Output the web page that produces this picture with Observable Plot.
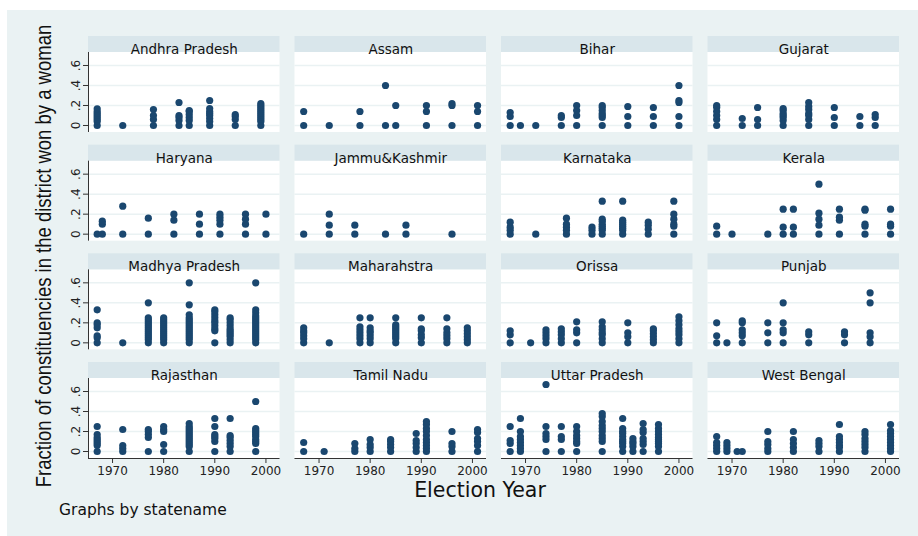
<!DOCTYPE html>
<html>
<head>
<meta charset="utf-8">
<script src="https://cdn.jsdelivr.net/npm/d3@7"></script>
<script src="https://cdn.jsdelivr.net/npm/@observablehq/plot@0.6"></script>
<style>
  html, body { margin: 0; padding: 0; background: #fff; }
  #chart { position: relative; width: 918px; height: 536px; overflow: hidden; background: #fff; }
  #panel { position: absolute; left: 7px; top: 10px; width: 911px; height: 526px; background: #eaf2f3; }
  #panel svg { position: absolute; left: 0; top: 0; }
</style>
</head>
<body>
<div id="chart"><div id="panel"></div></div>
<script>
// States in facet order (4 columns x 4 rows)
const stateNames = [
  "Andhra Pradesh", "Assam", "Bihar", "Gujarat",
  "Haryana", "Jammu&Kashmir", "Karnataka", "Kerala",
  "Madhya Pradesh", "Maharahstra", "Orissa", "Punjab",
  "Rajasthan", "Tamil Nadu", "Uttar Pradesh", "West Bengal"
];

// Per state: [election year, fractions of constituencies won by a woman, one per district]
const andhraPradesh = [
  [1967, [0, .04, .06, .08, .1, .12, .14, .167]],
  [1972, [0]],
  [1978, [0, .06, .1, .16]],
  [1983, [0, .05, .08, .1, .23]],
  [1985, [0, .05, .08, .11, .14, .15]],
  [1989, [0, .04, .07, .1, .12, .14, .17, .25]],
  [1994, [0, .06, .09, .11]],
  [1999, [0, .04, .06, .08, .1, .12, .14, .16, .18, .2, .22]]
];
const assam = [
  [1967, [0, .14]], [1972, [0]], [1978, [0, .14]], [1983, [0, .4]],
  [1985, [0, .2]], [1991, [0, .14, .2]], [1996, [0, .2, .22]], [2001, [0, .14, .2]]
];
const bihar = [
  [1967, [0, .09, .13]], [1969, [0]], [1972, [0]], [1977, [0, .08, .1]],
  [1980, [0, .1, .15, .2]], [1985, [0, .08, .1, .12, .15, .18, .2]],
  [1990, [0, .09, .19]], [1995, [0, .09, .18]], [2000, [0, .09, .23, .25, .4]]
];
const gujarat = [
  [1967, [0, .06, .1, .14, .18, .2]], [1972, [0, .07]], [1975, [0, .06, .18]],
  [1980, [0, .05, .08, .1, .12, .15, .17]], [1985, [0, .06, .1, .12, .16, .19, .23]],
  [1990, [0, .08, .18]], [1995, [0, .09]], [1998, [0, .08, .11]]
];
const haryana = [
  [1967, [0]], [1968, [0, .1, .13]], [1972, [0, .28]], [1977, [0, .16]],
  [1982, [0, .14, .2]], [1987, [0, .1, .2]], [1991, [0, .1, .14, .17, .2]],
  [1996, [0, .1, .15, .2]], [2000, [0, .2]]
];
const jammuKashmir = [
  [1967, [0]], [1972, [0, .09, .2]], [1977, [0, .09]], [1983, [0]], [1987, [0, .09]], [1996, [0]]
];
const karnataka = [
  [1967, [0, .04, .07, .12]], [1972, [0]], [1978, [0, .04, .07, .1, .16]], [1983, [0, .04, .07]],
  [1985, [0, .04, .06, .08, .1, .13, .15, .33]], [1989, [0, .04, .06, .08, .1, .12, .14, .33]],
  [1994, [0, .05, .09, .12]], [1999, [0, .08, .1, .15, .2, .33]]
];
const kerala = [
  [1967, [0, .08]], [1970, [0]], [1977, [0]], [1980, [0, .07, .25]], [1982, [0, .07, .25]],
  [1987, [0, .09, .15, .21, .5]], [1991, [0, .14, .17, .25]], [1996, [0, .08, .1, .24, .25]],
  [2001, [0, .08, .1, .25]]
];
const madhyaPradesh = [
  [1967, [0, .05, .07, .15, .18, .2, .33]],
  [1972, [0]],
  [1977, [0, .03, .05, .07, .09, .11, .13, .15, .17, .19, .21, .23, .25, .4]],
  [1980, [0, .03, .05, .07, .09, .11, .13, .15, .17, .19, .21, .23, .25]],
  [1985, [0, .03, .05, .07, .09, .11, .13, .15, .17, .19, .21, .23, .25, .28, .38, .6]],
  [1990, [0, .12, .14, .17, .2, .22, .25, .28, .31, .33]],
  [1993, [0, .03, .06, .08, .1, .12, .14, .17, .2, .23, .25]],
  [1998, [0, .03, .05, .07, .09, .11, .13, .15, .17, .19, .21, .23, .25, .27, .3, .33, .6]]
];
const maharashtra = [
  [1967, [0, .04, .07, .1, .12, .15]], [1972, [0]],
  [1978, [0, .04, .07, .1, .13, .16, .25]], [1980, [0, .04, .07, .1, .12, .15, .25]],
  [1985, [0, .04, .06, .08, .1, .12, .14, .16, .18, .25]], [1990, [0, .05, .08, .12, .14, .25]],
  [1995, [0, .04, .07, .1, .14, .25]], [1999, [0, .03, .06, .09, .12, .15]]
];
const orissa = [
  [1967, [0, .08, .12]], [1971, [0]], [1974, [0, .04, .07, .1, .13]], [1977, [0, .04, .08, .11, .14]],
  [1980, [0, .1, .13, .21]], [1985, [0, .04, .08, .1, .13, .16, .21]], [1990, [0, .06, .1, .2]],
  [1995, [0, .03, .06, .09, .12, .14]], [2000, [0, .04, .08, .11, .14, .18, .22, .26]]
];
const punjab = [
  [1967, [0, .07, .2]], [1969, [0]], [1972, [0, .07, .1, .13, .2, .22]], [1977, [0, .1, .2]],
  [1980, [0, .1, .13, .2, .4]], [1985, [0, .08, .11]], [1992, [0, .08, .11]], [1997, [0, .06, .1, .4, .5]]
];
const rajasthan = [
  [1967, [0, .06, .08, .1, .12, .14, .17, .25]], [1972, [0, .03, .06, .22]],
  [1977, [0, .14, .17, .2, .22]], [1980, [0, .07, .2, .22, .25]],
  [1985, [0, .05, .07, .09, .11, .13, .15, .17, .19, .21, .23, .25, .28]],
  [1990, [0, .1, .13, .15, .17, .25, .33]], [1993, [0, .05, .08, .11, .14, .16, .33]],
  [1998, [0, .08, .1, .12, .15, .17, .19, .21, .23, .5]]
];
const tamilNadu = [
  [1967, [0, .09]], [1971, [0]], [1977, [0, .03, .08]], [1980, [0, .04, .07, .12]],
  [1984, [0, .04, .07, .1, .12]], [1989, [0, .04, .08, .11, .18]],
  [1991, [0, .03, .06, .09, .12, .16, .2, .23, .27, .3]], [1996, [0, .05, .08, .2]],
  [2001, [0, .06, .1, .13, .19, .22]]
];
const uttarPradesh = [
  [1967, [0, .08, .11, .25]], [1969, [0, .03, .06, .09, .12, .15, .2, .33]],
  [1974, [0, .12, .15, .18, .25, .67]], [1977, [0, .12, .15, .25]],
  [1980, [0, .08, .1, .13, .16, .2, .25]], [1985, [0, .1, .13, .16, .2, .23, .26, .3, .35, .38]],
  [1989, [0, .05, .08, .1, .12, .15, .18, .2, .23, .33]], [1991, [0, .05, .08, .1, .13]],
  [1993, [0, .07, .1, .13, .19, .22, .28]], [1996, [0, .05, .08, .1, .12, .14, .17, .2, .23, .27]]
];
const westBengal = [
  [1967, [0, .03, .06, .09, .15]], [1969, [0, .03, .06, .09]], [1971, [0]], [1972, [0]],
  [1977, [0, .03, .07, .1, .2]], [1982, [0, .04, .08, .12, .2]], [1987, [0, .05, .08, .11]],
  [1991, [0, .04, .06, .09, .12, .15, .27]], [1996, [0, .04, .07, .1, .13, .17, .2]],
  [2001, [0, .03, .06, .09, .12, .15, .18, .21, .27]]
];

const stateData = [
  andhraPradesh, assam, bihar, gujarat,
  haryana, jammuKashmir, karnataka, kerala,
  madhyaPradesh, maharashtra, orissa, punjab,
  rajasthan, tamilNadu, uttarPradesh, westBengal
];

// Axis ticks and labels
const yearTicks = [1970, 1980, 1990, 2000];
const fractionTicks = [0, .2, .4, .6];
const xTitle = "Election Year";
const yTitle = "Fraction of constituencies in the district won by a woman";
const note = "Graphs by statename";

// Scale extents: the y domain above the plot area holds the state title strip
const xMin = 1965.3, xMax = 2002.75;
const yMin = -0.07, yPlotTop = 0.73, yStripTop = 0.89;

const navy = "#1a476f";
const stripFill = "#d9e6eb";
const gridColor = "#eaf2f3";

const panels = stateNames.map((name, i) => ({name, col: i % 4, row: Math.floor(i / 4)}));
const points = panels.flatMap((p, i) =>
  stateData[i].flatMap(([year, fractions]) => fractions.map(frac => ({...p, year, frac})))
);

const chart = Plot.plot({
  width: 911,
  height: 526,
  marginLeft: 81,
  marginRight: 19,
  marginTop: 26,
  marginBottom: 78,
  style: {fontFamily: "'DejaVu Sans', sans-serif", fontSize: "12px", background: "transparent", color: "#222"},
  fx: {domain: [0, 1, 2, 3], axis: null, paddingInner: 0.0726, paddingOuter: 0, round: false, label: null},
  fy: {domain: [0, 1, 2, 3], axis: null, paddingInner: 0.1166, paddingOuter: 0, round: false, label: null},
  x: {domain: [xMin, xMax], label: null},
  y: {domain: [yMin, yStripTop], label: null},
  marks: [
    // plot area and title strip of each panel
    Plot.rect([0], {x1: xMin, x2: xMax, y1: yMin, y2: yPlotTop, fill: "white"}),
    Plot.rect([0], {x1: xMin, x2: xMax, y1: yPlotTop, y2: yStripTop, fill: stripFill}),
    Plot.ruleY(fractionTicks, {x1: xMin, x2: xMax, stroke: gridColor, strokeWidth: 1.5}),
    Plot.text(panels, {fx: "col", fy: "row", text: "name", frameAnchor: "top", dy: 8, fontSize: 13.5, fill: "#111"}),
    // district fractions
    Plot.dot(points, {fx: "col", fy: "row", x: "year", y: "frac", r: 3.6, fill: navy, stroke: null}),
    // axis lines on the outer panels
    Plot.ruleX(panels.filter(p => p.col === 0), {fx: "col", fy: "row", x: xMin, y1: yMin, y2: yPlotTop, stroke: "#333"}),
    Plot.ruleY(panels.filter(p => p.row === 3), {fx: "col", fy: "row", y: yMin, x1: xMin, x2: xMax, stroke: "#333"}),
    Plot.axisY(fractionTicks, {
      tickSize: 5, tickPadding: 4, tickRotate: -90, fontSize: 12, stroke: "#333",
      tickFormat: d => d === 0 ? "0" : String(d).replace(/^0/, "")
    }),
    Plot.axisX(yearTicks, {tickSize: 5, tickPadding: 3, fontSize: 12, stroke: "#333", tickFormat: d => String(d)})
  ]
});

document.getElementById("panel").appendChild(chart);

const svg = d3.select(chart);
svg.append("text")
  .attr("transform", "translate(44,246) rotate(-90) scale(1,1.15)")
  .attr("text-anchor", "middle")
  .style("font-family", "'Liberation Sans', Arial, sans-serif")
  .style("font-size", "18.5px")
  .attr("fill", "#111")
  .text(yTitle);
svg.append("text")
  .attr("x", 473).attr("y", 487)
  .attr("text-anchor", "middle")
  .style("font-family", "'DejaVu Sans', sans-serif")
  .style("font-size", "20.5px")
  .attr("fill", "#111")
  .text(xTitle);
svg.append("text")
  .attr("x", 52).attr("y", 505)
  .attr("text-anchor", "start")
  .style("font-family", "'DejaVu Sans', sans-serif")
  .style("font-size", "15.5px")
  .attr("fill", "#111")
  .text(note);
</script>
</body>
</html>
